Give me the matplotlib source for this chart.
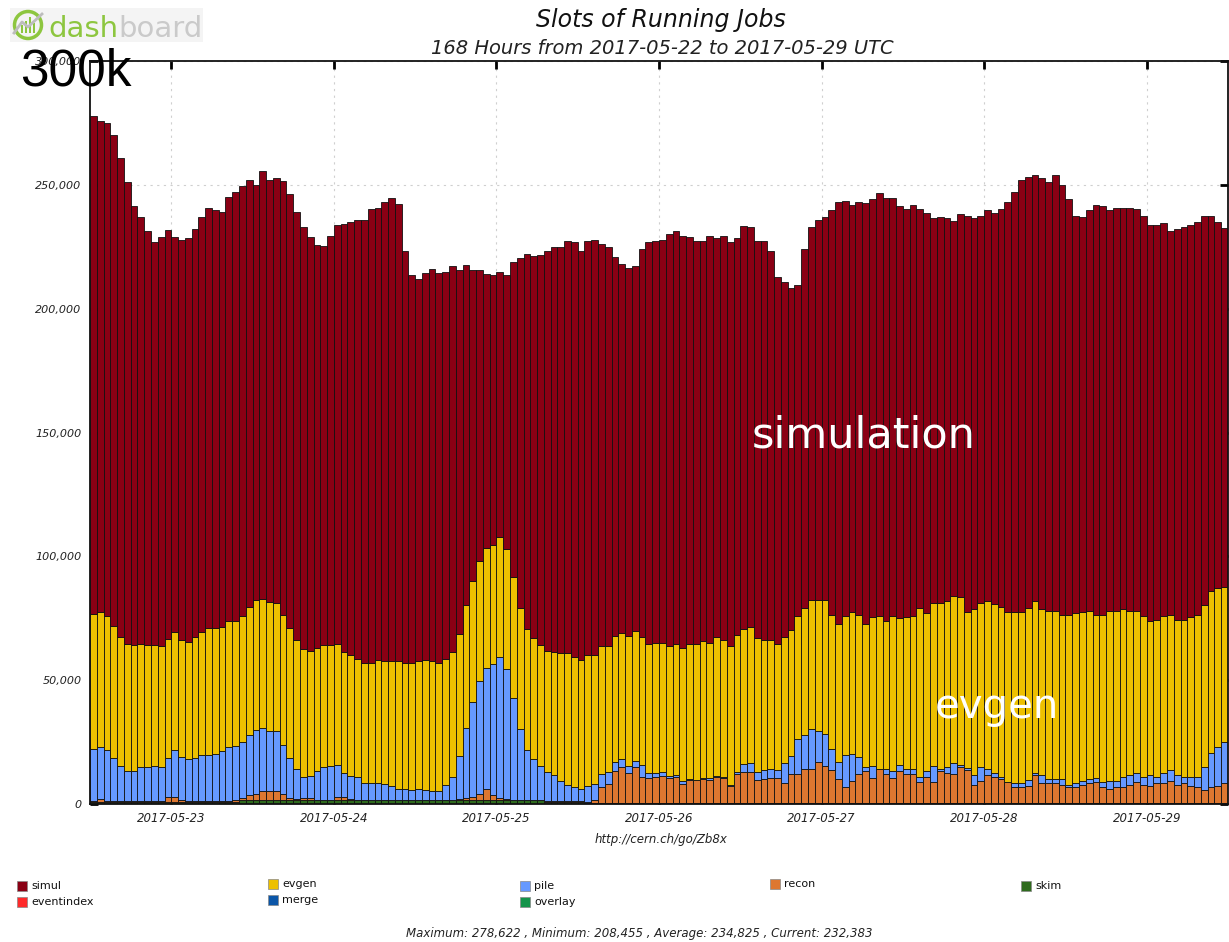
import numpy as np
import matplotlib
matplotlib.use("Agg")
import matplotlib.pyplot as plt
from matplotlib.patches import Rectangle, Circle
from matplotlib.ticker import FuncFormatter

# ---------------- data (thousands of slots, hourly bars) ----------------
tick_hours = [12, 36, 60, 84, 108, 132, 156]
tick_labels = ['2017-05-23', '2017-05-24', '2017-05-25', '2017-05-26',
               '2017-05-27', '2017-05-28', '2017-05-29']

# top of the whole stack
total_k = [
    277.9, 275.9, 274.9, 270.0, 260.7, 251.2, 241.4, 237.1, 231.2, 226.9, 229.0, 231.7,
    229.0, 227.9, 228.5, 232.2, 237.1, 240.7, 239.9, 239.2, 245.1, 247.3, 249.5, 252.1,
    249.9, 255.4, 252.0, 252.7, 251.6, 246.2, 239.2, 232.8, 229.0, 225.8, 225.3, 229.5,
    233.9, 234.3, 234.9, 236.0, 236.0, 240.3, 240.8, 243.0, 244.6, 242.4, 223.1, 213.4,
    211.8, 214.5, 216.1, 214.5, 215.0, 217.2, 215.7, 217.7, 215.7, 215.7, 214.0, 213.4,
    215.0, 213.4, 218.9, 220.4, 222.0, 221.1, 221.5, 223.1, 224.7, 224.7, 227.4, 227.0,
    223.1, 227.4, 227.8, 226.2, 224.7, 221.0, 218.1, 216.6, 217.2, 224.2, 227.0, 227.5,
    227.9, 230.1, 231.2, 229.4, 229.0, 227.3, 227.5, 229.5, 228.5, 229.4, 227.0, 228.5,
    233.3, 232.8, 227.5, 227.4, 223.1, 212.9, 210.7, 208.5, 209.7, 224.2, 232.8, 236.0,
    237.1, 239.8, 243.1, 243.5, 242.0, 243.1, 242.6, 244.1, 246.8, 244.6, 244.6, 241.4,
    240.3, 242.0, 240.3, 238.7, 236.6, 237.1, 236.6, 235.5, 238.3, 237.6, 236.7, 237.6,
    239.8, 238.7, 240.3, 243.0, 247.3, 252.1, 253.3, 253.9, 252.7, 251.2, 253.9, 250.0,
    244.1, 237.6, 237.1, 239.9, 242.0, 241.4, 239.9, 240.8, 240.8, 240.8, 240.3, 237.6,
    233.9, 233.9, 234.4, 231.2, 232.2, 232.8, 233.9, 234.9, 237.6, 237.6, 234.9, 232.4,
]

# top of the evgen layer
evgen_top_k = [
    76.9, 77.5, 75.9, 71.8, 67.5, 64.5, 64.1, 64.5, 64.1, 64.1, 63.7, 66.8,
    69.3, 66.1, 65.6, 67.3, 69.3, 71.0, 71.0, 71.5, 73.7, 73.7, 75.8, 79.6,
    82.5, 82.9, 81.6, 81.3, 76.5, 71.0, 66.1, 62.4, 61.8, 63.0, 64.0, 64.0,
    64.5, 61.4, 60.3, 58.6, 57.0, 57.0, 58.1, 57.7, 57.7, 57.7, 57.0, 57.0,
    57.9, 58.1, 57.7, 57.1, 58.6, 61.3, 68.8, 80.2, 89.9, 98.0, 103.3, 104.4,
    107.7, 102.8, 91.5, 79.3, 70.6, 66.9, 64.1, 61.8, 61.3, 60.9, 60.9, 59.3,
    58.2, 60.3, 60.3, 63.7, 63.7, 67.7, 68.9, 67.9, 69.9, 67.3, 64.5, 65.0,
    65.0, 63.7, 64.5, 63.0, 64.5, 64.5, 65.7, 65.0, 67.3, 66.4, 63.7, 68.3,
    70.6, 71.6, 66.9, 66.2, 66.1, 64.5, 67.5, 70.2, 75.9, 79.2, 82.4, 82.4,
    82.4, 76.5, 72.7, 75.9, 77.4, 76.5, 72.7, 75.4, 75.9, 73.8, 75.9, 74.9,
    75.4, 75.9, 79.2, 77.0, 81.3, 81.3, 81.8, 84.0, 83.5, 77.4, 78.6, 81.3,
    81.8, 80.8, 79.7, 77.5, 77.5, 77.5, 79.2, 81.8, 78.6, 78.1, 78.1, 76.5,
    76.5, 77.0, 77.5, 78.1, 76.5, 76.5, 78.1, 78.1, 78.6, 78.1, 78.1, 75.9,
    73.8, 74.3, 75.9, 76.5, 74.3, 74.3, 75.4, 76.5, 80.2, 86.2, 87.2, 87.8,
]

# top of the pile layer
pile_top_k = [
    22.3, 23.1, 21.8, 18.5, 15.3, 13.4, 13.4, 14.8, 14.8, 15.3, 14.8, 18.4,
    21.8, 19.1, 18.0, 18.4, 19.6, 19.6, 20.2, 21.5, 23.1, 23.4, 24.9, 27.9,
    29.8, 30.6, 29.3, 29.3, 23.9, 18.4, 14.0, 11.0, 11.4, 13.4, 14.8, 15.3,
    15.7, 12.6, 11.4, 11.0, 8.6, 8.6, 8.3, 7.9, 7.3, 6.2, 6.2, 5.6,
    6.0, 5.6, 5.2, 5.2, 7.7, 11.0, 19.5, 30.8, 41.1, 49.6, 55.0, 56.7,
    59.4, 54.4, 42.6, 30.2, 21.8, 18.0, 15.3, 13.0, 11.6, 9.3, 7.7, 6.7,
    6.2, 7.3, 7.9, 12.0, 13.0, 17.1, 18.0, 15.3, 17.5, 15.7, 12.4, 12.6,
    13.0, 11.3, 11.6, 9.3, 10.0, 9.7, 10.5, 10.3, 11.3, 10.8, 7.7, 13.0,
    16.0, 16.4, 13.0, 13.7, 14.0, 13.7, 16.7, 19.5, 26.1, 27.7, 30.4, 29.3,
    28.2, 22.3, 16.9, 19.6, 20.2, 19.1, 14.8, 15.3, 14.2, 14.2, 13.2, 15.8,
    14.2, 14.2, 11.0, 13.2, 15.3, 14.2, 14.8, 16.4, 15.8, 14.5, 11.6, 14.8,
    14.2, 12.6, 11.0, 8.9, 8.3, 8.3, 9.7, 12.6, 11.6, 10.2, 10.2, 10.0,
    7.8, 8.3, 9.4, 10.0, 10.5, 8.9, 9.4, 9.4, 11.0, 11.6, 12.6, 11.0,
    11.6, 11.0, 12.6, 13.7, 11.6, 11.0, 11.0, 11.0, 14.8, 20.7, 22.9, 25.0,
]

# recon slots
recon_k = [
    0.3, 0.9, 0.3, 0.2, 0.2, 0.2, 0.2, 0.3, 0.3, 0.2, 0.3, 1.8,
    1.8, 0.5, 0.2, 0.2, 0.2, 0.2, 0.3, 0.3, 0.3, 0.5, 1.0, 2.0,
    2.5, 3.7, 3.7, 3.7, 2.5, 1.0, 0.5, 1.0, 1.0, 0.3, 0.3, 0.3,
    1.5, 1.2, 0.5, 0.3, 0.3, 0.3, 0.3, 0.3, 0.3, 0.3, 0.3, 0.3,
    0.3, 0.3, 0.2, 0.2, 0.3, 0.3, 0.5, 0.8, 1.5, 2.5, 4.5, 2.0,
    1.0, 0.5, 0.3, 0.3, 0.3, 0.3, 0.3, 0.3, 0.3, 0.3, 0.3, 0.3,
    0.3, 0.5, 1.2, 6.4, 7.9, 13.1, 14.5, 12.3, 14.7, 10.7, 10.2, 10.7,
    11.1, 10.0, 10.5, 7.9, 9.4, 9.2, 9.7, 9.2, 10.7, 10.0, 7.1, 11.8,
    12.7, 12.7, 9.4, 9.7, 10.2, 10.2, 8.0, 11.8, 11.8, 13.9, 13.9, 16.6,
    15.0, 13.4, 9.7, 6.4, 9.1, 11.8, 12.9, 10.2, 13.9, 11.8, 10.2, 12.9,
    11.8, 11.8, 8.6, 10.7, 8.6, 12.9, 12.3, 11.8, 14.5, 13.4, 7.5, 9.1,
    11.3, 10.7, 9.7, 8.6, 6.4, 6.4, 7.0, 11.3, 8.0, 8.0, 8.0, 7.5,
    6.4, 6.4, 7.5, 8.0, 8.6, 6.4, 5.9, 6.4, 6.4, 7.5, 8.6, 7.5,
    7.0, 8.0, 8.0, 9.1, 7.5, 8.0, 7.0, 6.4, 5.3, 6.4, 7.0, 8.0,
]

# skim slots
skim_k = [
    1.0, 1.0, 1.0, 1.0, 1.0, 1.0, 1.0, 1.0, 1.0, 1.0, 1.0, 1.0,
    1.0, 1.0, 1.0, 1.0, 1.0, 1.0, 1.0, 1.0, 1.0, 1.0, 1.5, 1.5,
    1.5, 1.5, 1.5, 1.5, 1.5, 1.5, 1.5, 1.5, 1.5, 1.5, 1.5, 1.5,
    1.5, 1.5, 1.5, 1.5, 1.5, 1.5, 1.5, 1.5, 1.5, 1.5, 1.5, 1.5,
    1.5, 1.5, 1.5, 1.5, 1.5, 1.5, 1.5, 1.5, 1.5, 1.5, 1.5, 1.5,
    1.5, 1.5, 1.5, 1.5, 1.5, 1.5, 1.5, 1.0, 1.0, 1.0, 1.0, 1.0,
    1.0, 0.3, 0.3, 0.3, 0.3, 0.3, 0.3, 0.3, 0.3, 0.3, 0.3, 0.3,
    0.3, 0.3, 0.3, 0.3, 0.3, 0.3, 0.3, 0.3, 0.3, 0.3, 0.3, 0.3,
    0.3, 0.3, 0.3, 0.3, 0.3, 0.3, 0.3, 0.3, 0.3, 0.3, 0.3, 0.3,
    0.3, 0.3, 0.3, 0.3, 0.3, 0.3, 0.3, 0.3, 0.3, 0.3, 0.3, 0.3,
    0.3, 0.3, 0.3, 0.3, 0.3, 0.3, 0.3, 0.3, 0.3, 0.3, 0.3, 0.3,
    0.3, 0.3, 0.3, 0.3, 0.3, 0.3, 0.3, 0.3, 0.3, 0.3, 0.3, 0.3,
    0.3, 0.3, 0.3, 0.3, 0.3, 0.3, 0.3, 0.3, 0.3, 0.3, 0.3, 0.3,
    0.3, 0.3, 0.3, 0.3, 0.3, 0.3, 0.3, 0.3, 0.3, 0.3, 0.3, 0.3,
]

legend_names = ['simul', 'evgen', 'pile', 'recon', 'skim',
                'eventindex', 'merge', 'overlay']
colors = {'simul': '#8A0014', 'evgen': '#EDC000', 'pile': '#6699FF',
          'recon': '#DD7730', 'skim': '#2F6B1E', 'eventindex': '#FF2A2A',
          'merge': '#0B56A8', 'overlay': '#14944A'}

# per-series slot counts derived from the stack readings
skim = np.array(skim_k) * 1000
recon = np.array(recon_k) * 1000
pile = np.array(pile_top_k) * 1000 - skim - recon
evgen = (np.array(evgen_top_k) - np.array(pile_top_k)) * 1000
simul = (np.array(total_k) - np.array(evgen_top_k)) * 1000

# ---------------- figure ----------------
W, H = 1229, 942
fig = plt.figure(figsize=(W / 100, H / 100), dpi=100)
fig.patch.set_facecolor('white')

ax = fig.add_axes([90 / W, 1 - 804 / H, (1228 - 90) / W, (804 - 61) / H])
hours = np.arange(len(total_k))
bottom = np.zeros(len(hours))
for name, vals in [('skim', skim), ('recon', recon), ('pile', pile),
                   ('evgen', evgen), ('simul', simul)]:
    ax.bar(hours, vals, width=1.0, bottom=bottom, align='edge',
           color=colors[name], edgecolor='#111111', linewidth=0.6, zorder=2)
    bottom = bottom + vals

ax.set_xlim(0, 168)
ax.set_ylim(0, 300000)
ax.set_yticks(np.arange(0, 300001, 50000))
ax.yaxis.set_major_formatter(FuncFormatter(lambda v, p: f'{int(v):,}'))
ax.set_xticks(tick_hours)
ax.set_xticklabels(tick_labels)
ax.tick_params(axis='both', direction='in', length=6, width=2,
               top=True, right=True, labelsize=8, pad=6, colors='black',
               labelcolor='#222222')
ax.tick_params(axis='x', labelsize=8.5)
for lab in ax.get_xticklabels() + ax.get_yticklabels():
    lab.set_style('italic')
ax.grid(True, color='#cfcfcf', linestyle=(0, (2, 4)), linewidth=0.8)
ax.set_axisbelow(True)
for sp in ax.spines.values():
    sp.set_linewidth(1.3)
    sp.set_color('#111111')

# ---------------- overlay in pixel coordinates ----------------
ov = fig.add_axes([0, 0, 1, 1], zorder=10)
ov.set_xlim(0, W)
ov.set_ylim(H, 0)
ov.axis('off')
ov.patch.set_alpha(0)

ov.text(661, 20, 'Slots of Running Jobs', ha='center', va='center',
        fontsize=17, style='italic', color='#111111')
ov.text(662, 48, '168 Hours from 2017-05-22 to 2017-05-29 UTC', ha='center',
        va='center', fontsize=14, style='italic', color='#222222')
ov.text(661, 840, 'http://cern.ch/go/Zb8x', ha='center', va='center',
        fontsize=8.5, style='italic', color='#222222')
ov.text(639, 933, 'Maximum: 278,622 , Minimum: 208,455 , Average: 234,825 , '
        'Current: 232,383', ha='center', va='center', fontsize=8.5,
        style='italic', color='#222222')

# legend
leg_pos = {'simul': (17, 886), 'evgen': (268, 884), 'pile': (520, 886),
           'recon': (770, 884), 'skim': (1021, 886),
           'eventindex': (17, 902), 'merge': (268, 900), 'overlay': (520, 902)}
for name in legend_names:
    lx, ly = leg_pos[name]
    ov.add_patch(Rectangle((lx, ly - 5), 10, 10, facecolor=colors[name],
                           edgecolor='#888888', linewidth=0.5))
    ov.text(lx + 14, ly, name, ha='left', va='center', fontsize=8,
            color='#111111')

# dashboard logo
ov.add_patch(Rectangle((10, 8), 193, 34, facecolor='#f4f4f4', edgecolor='none'))
ov.add_patch(Circle((28, 25), 13.5, facecolor='none', edgecolor='#8DC63F',
                    linewidth=2.5))
for bx, bh in [(21, 8), (25, 12), (29, 16), (33, 10)]:
    ov.add_patch(Rectangle((bx, 33 - bh), 2.2, bh, facecolor='#8DC63F',
                           edgecolor='none'))
ov.plot([14, 22, 28, 42], [33, 22, 27, 14], color='#bdbdbd', linewidth=2)
ov.text(48, 37, 'dash', ha='left', va='baseline', fontsize=21,
        color='#8DC63F')
ov.text(203, 37, 'board', ha='right', va='baseline', fontsize=21,
        color='#CACACA')

# annotations
ov.text(20, 85, '300k', ha='left', va='baseline', fontsize=37,
        family='Liberation Sans', color='black')
ov.text(752, 447, 'simulation', ha='left', va='baseline', fontsize=31,
        color='white')
ov.text(935, 718, 'evgen', ha='left', va='baseline', fontsize=29,
        color='white')

fig.savefig('out.png', dpi=100, facecolor='white')
